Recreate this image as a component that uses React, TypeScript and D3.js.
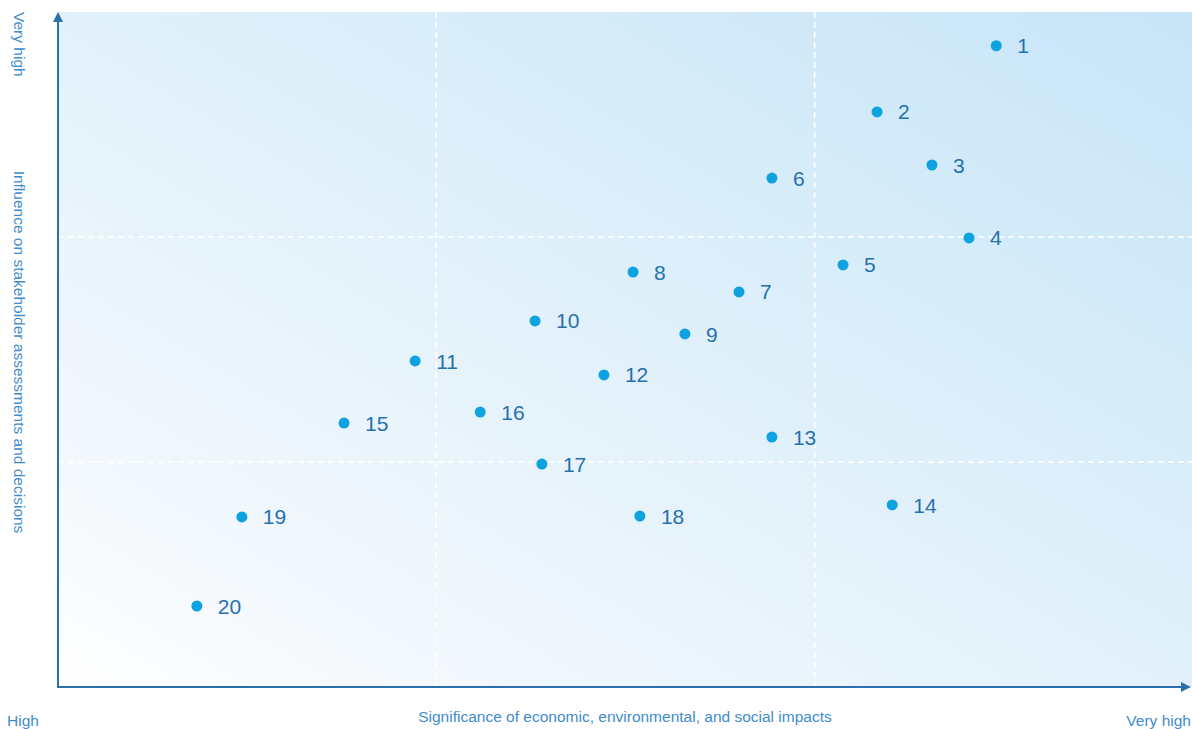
import React from "react";
import * as d3 from "d3";

const ids = ["1","2","3","4","5","6","7","8","9","10","11","12","13","14","15","16","17","18","19","20"];
const impact = [2.48, 2.165, 2.31, 2.408, 2.075, 1.887, 1.80, 1.52, 1.657, 1.261, 0.944, 1.443, 1.887, 2.205, 0.756, 1.116, 1.279, 1.538, 0.486, 0.367];
const influence = [2.85, 2.556, 2.32, 1.996, 1.876, 2.262, 1.756, 1.844, 1.569, 1.627, 1.449, 1.387, 1.111, 0.809, 1.173, 1.222, 0.991, 0.76, 0.756, 0.36];
const gridValues = [1, 2];
const xLow = "High";
const xHigh = "Very high";
const yHigh = "Very high";
const xTitle = "Significance of economic, environmental, and social impacts";
const yTitle = "Influence on stakeholder assessments and decisions";

export default function App() {
  const W = 1192, H = 729;
  const left = 58, right = 1193, top = 12, bottom = 687;
  const x = d3.scaleLinear().domain([0, 3]).range([left, right]);
  const y = d3.scaleLinear().domain([0, 3]).range([bottom, top]);
  const font = "'Liberation Sans', Arial, sans-serif";
  const axisColor = "#2a6fae";
  const textColor = "#3f8ccc";
  const fs = 15.5;
  return (
    <svg width={W} height={H} style={{ position: "absolute", left: 0, top: 0 }}>
      <defs>
        <linearGradient id="bg" x1="0" y1="1" x2="1" y2="0">
          <stop offset="0" stopColor="#ffffff" />
          <stop offset="0.15" stopColor="#f4f9fd" />
          <stop offset="1" stopColor="#c6e5f7" />
        </linearGradient>
      </defs>
      <rect x={left} y={top} width={right - left} height={bottom - top} fill="url(#bg)" />
      {gridValues.map((v) => (
        <line key={"gx" + v} x1={x(v)} x2={x(v)} y1={top} y2={bottom} stroke="#ffffff" strokeWidth={1.6} strokeDasharray="6,4" />
      ))}
      {gridValues.map((v) => (
        <line key={"gy" + v} x1={left} x2={right} y1={y(v)} y2={y(v)} stroke="#ffffff" strokeWidth={1.6} strokeDasharray="6,4" />
      ))}
      <line x1={left} x2={left} y1={bottom + 1} y2={top + 6} stroke={axisColor} strokeWidth={2} />
      <line x1={left - 1} x2={right - 8} y1={bottom} y2={bottom} stroke={axisColor} strokeWidth={2} />
      <path d={`M${left - 5},${top + 10} L${left},${top} L${left + 5},${top + 10} Z`} fill={axisColor} />
      <path d={`M${right - 12},${bottom - 5} L${right - 2},${bottom} L${right - 12},${bottom + 5} Z`} fill={axisColor} />
      {ids.map((id, i) => (
        <g key={id}>
          <circle cx={x(impact[i])} cy={y(influence[i])} r={5.5} fill="#0ea3e0" />
          <text x={x(impact[i]) + 21} y={y(influence[i])} dy="0.36em" fontFamily={font} fontSize={21} fill="#2670ad">{id}</text>
        </g>
      ))}
      <text x={7} y={726} fontFamily={font} fontSize={fs} fill={textColor}>{xLow}</text>
      <text x={1191} y={726} textAnchor="end" fontFamily={font} fontSize={fs} fill={textColor}>{xHigh}</text>
      <text x={625} y={722} textAnchor="middle" fontFamily={font} fontSize={fs} fill={textColor}>{xTitle}</text>
      <text transform={`translate(19,12) rotate(90)`} fontFamily={font} fontSize={fs} fill={textColor} dy="0.35em">{yHigh}</text>
      <text transform={`translate(19,352) rotate(90)`} textAnchor="middle" fontFamily={font} fontSize={fs} fill={textColor} dy="0.35em">{yTitle}</text>
    </svg>
  );
}
